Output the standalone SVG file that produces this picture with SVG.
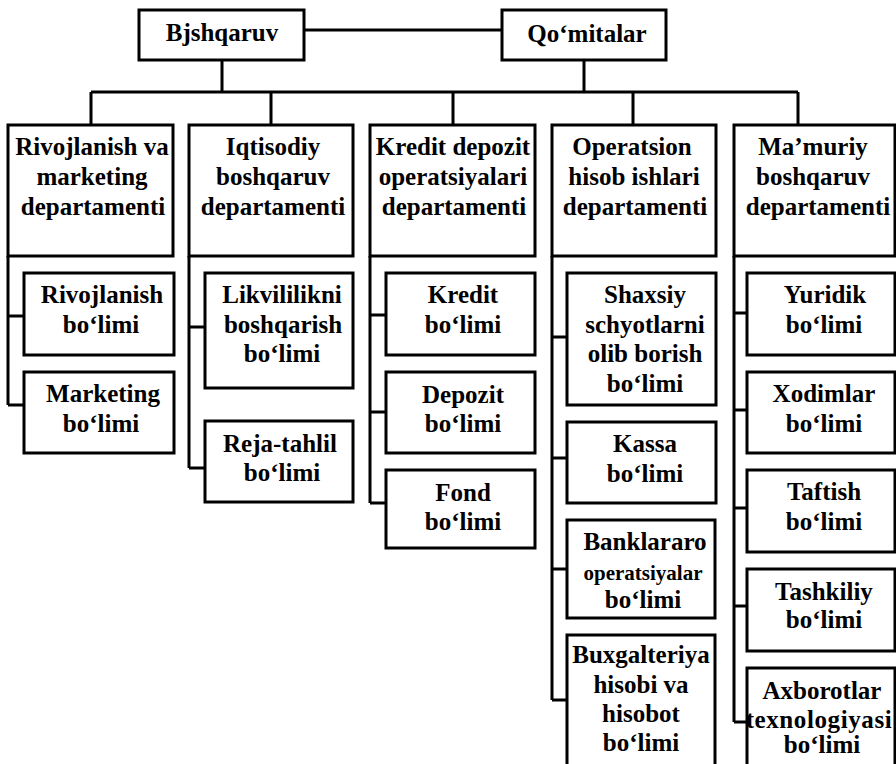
<svg xmlns="http://www.w3.org/2000/svg" width="896" height="764" viewBox="0 0 896 764">
<style>
  .box { fill: #ffffff; stroke: #000000; stroke-width: 3; }
  .ln { fill: none; stroke: #000000; stroke-width: 3; }
  text { font-family: "Liberation Serif", "Times New Roman", serif; font-weight: bold; font-size: 25px; text-anchor: middle; fill: #000000; }
  .sm { font-size: 21px; }
</style>
<rect x="0" y="0" width="896" height="764" fill="#ffffff"/>
<g id="connectors">
  <path class="ln" d="M304 30 H502"/>
  <path class="ln" d="M222 60 V92 M584 60 V92"/>
  <path class="ln" d="M91 92 H798 M91 92 V125 M271 92 V125 M453 92 V125 M633 92 V125 M798 92 V125"/>
  <path class="ln" d="M8 256 V405 M8 316 H24 M8 405 H24"/>
  <path class="ln" d="M189 256 V468 M189 327 H205 M189 468 H205"/>
  <path class="ln" d="M370 256 V503 M370 315 H386 M370 412 H386 M370 503 H386"/>
  <path class="ln" d="M552 256 V700 M552 337 H567 M552 458 H567 M552 569 H567 M552 700 H567"/>
  <path class="ln" d="M734 256 V722 M734 313 H747 M734 410 H747 M734 508 H747 M734 606 H747 M734 722 H747"/>
</g>
<g id="bjshqaruv">
  <rect class="box" x="139" y="10" width="165" height="50"/>
  <text x="222" y="41">Bjshqaruv</text>
</g>
<g id="qomitalar">
  <rect class="box" x="502" y="10" width="164" height="50"/>
  <text x="587" y="42">Qo‘mitalar</text>
</g>
<g id="dep-rivojlanish">
  <rect class="box" x="8" y="125" width="165" height="131"/>
  <text x="92" y="155">Rivojlanish va</text>
  <text x="92" y="185">marketing</text>
  <text x="93" y="215">departamenti</text>
</g>
<g id="dep-iqtisodiy">
  <rect class="box" x="189" y="125" width="164" height="131"/>
  <text x="273" y="155">Iqtisodiy</text>
  <text x="273" y="185">boshqaruv</text>
  <text x="273" y="215">departamenti</text>
</g>
<g id="dep-kredit">
  <rect class="box" x="370" y="125" width="165" height="131"/>
  <text x="453" y="155">Kredit depozit</text>
  <text x="453" y="185">operatsiyalari</text>
  <text x="454" y="215">departamenti</text>
</g>
<g id="dep-operatsion">
  <rect class="box" x="552" y="125" width="164" height="131"/>
  <text x="632" y="155">Operatsion</text>
  <text x="634" y="185">hisob ishlari</text>
  <text x="635" y="215">departamenti</text>
</g>
<g id="dep-mamuriy">
  <rect class="box" x="734" y="125" width="161" height="131"/>
  <text x="813" y="155">Ma’muriy</text>
  <text x="813" y="185">boshqaruv</text>
  <text x="818" y="215">departamenti</text>
</g>
<g id="rivojlanish">
  <rect class="box" x="24" y="273" width="150" height="82"/>
  <text x="102" y="303">Rivojlanish</text>
  <text x="101" y="333">bo‘limi</text>
</g>
<g id="marketing">
  <rect class="box" x="24" y="372" width="150" height="81"/>
  <text x="103" y="402">Marketing</text>
  <text x="101" y="432">bo‘limi</text>
</g>
<g id="likvililikni">
  <rect class="box" x="205" y="273" width="148" height="115"/>
  <text x="282" y="303">Likvililikni</text>
  <text x="283" y="333">boshqarish</text>
  <text x="282" y="362">bo‘limi</text>
</g>
<g id="reja-tahlil">
  <rect class="box" x="205" y="421" width="148" height="81"/>
  <text x="280" y="452">Reja-tahlil</text>
  <text x="282" y="481">bo‘limi</text>
</g>
<g id="kredit">
  <rect class="box" x="386" y="273" width="149" height="82"/>
  <text x="463" y="303">Kredit</text>
  <text x="463" y="333">bo‘limi</text>
</g>
<g id="depozit">
  <rect class="box" x="386" y="372" width="149" height="81"/>
  <text x="463" y="403">Depozit</text>
  <text x="463" y="432">bo‘limi</text>
</g>
<g id="fond">
  <rect class="box" x="386" y="470" width="149" height="78"/>
  <text x="463" y="501">Fond</text>
  <text x="463" y="530">bo‘limi</text>
</g>
<g id="shaxsiy">
  <rect class="box" x="567" y="273" width="149" height="132"/>
  <text x="645" y="303">Shaxsiy</text>
  <text x="645" y="333">schyotlarni</text>
  <text x="645" y="362">olib borish</text>
  <text x="645" y="392">bo‘limi</text>
</g>
<g id="kassa">
  <rect class="box" x="567" y="422" width="149" height="81"/>
  <text x="645" y="452">Kassa</text>
  <text x="645" y="482">bo‘limi</text>
</g>
<g id="banklararo">
  <rect class="box" x="567" y="520" width="148" height="98"/>
  <text x="645" y="550">Banklararo</text>
  <text class="sm" x="643" y="580">operatsiyalar</text>
  <text x="643" y="608">bo‘limi</text>
</g>
<g id="buxgalteriya">
  <rect class="box" x="567" y="635" width="148" height="135"/>
  <text x="641" y="663">Buxgalteriya</text>
  <text x="641" y="693">hisobi va</text>
  <text x="641" y="722">hisobot</text>
  <text x="641" y="751">bo‘limi</text>
</g>
<g id="yuridik">
  <rect class="box" x="747" y="273" width="148" height="82"/>
  <text x="825" y="303">Yuridik</text>
  <text x="824" y="333">bo‘limi</text>
</g>
<g id="xodimlar">
  <rect class="box" x="747" y="372" width="148" height="81"/>
  <text x="824" y="402">Xodimlar</text>
  <text x="824" y="432">bo‘limi</text>
</g>
<g id="taftish">
  <rect class="box" x="747" y="470" width="148" height="82"/>
  <text x="824" y="500">Taftish</text>
  <text x="824" y="530">bo‘limi</text>
</g>
<g id="tashkiliy">
  <rect class="box" x="747" y="569" width="148" height="82"/>
  <text x="824" y="600">Tashkiliy</text>
  <text x="824" y="628">bo‘limi</text>
</g>
<g id="axborotlar">
  <rect class="box" x="747" y="668" width="148" height="102"/>
  <text x="822" y="699">Axborotlar</text>
  <text x="819" y="728" letter-spacing="0.6">texnologiyasi</text>
  <text x="822" y="753">bo‘limi</text>
</g>
</svg>
